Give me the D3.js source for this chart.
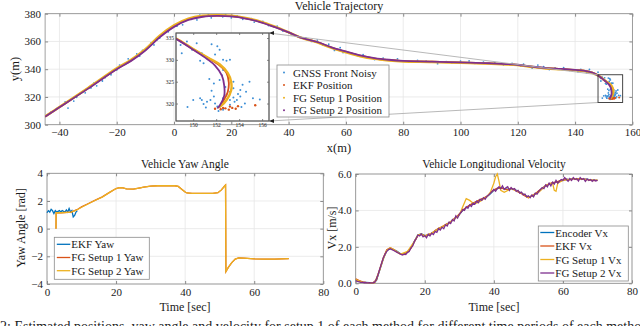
<!DOCTYPE html>
<html>
<head>
<meta charset="utf-8">
<script src="https://cdn.jsdelivr.net/npm/d3@7"></script>
<style>
body { margin: 0; background: #fff; }
svg { font-family: "Liberation Serif", "Times New Roman", serif; }
</style>
</head>
<body>
<svg id="fig" width="640" height="326"></svg>
<script>
// ---------- trajectory data (x, y in metres) ----------
const fg2Track = [[-45,305.8],[-40,312.5],[-30,326],[-20,340],[-15,346],[-10,353.5],[-5,363],[0,370.5],[5,375.5],[10,377.8],[15,378.4],[20,378],[25,376.5],[30,374],[35,370.5],[40,366.5],[44,363],[50,359.6],[55,355.8],[60,352.8],[65,350],[70,348],[75,346.8],[80,346],[90,345.5],[100,344.9],[110,344.3],[120,343.2],[125,341.9],[130,340.8],[135,340.2],[140,339.5],[143,339],[146,337.6],[148.5,334.8],[150,332.3],[151.2,330.2],[151.9,328.7],[152.5,326.4],[152.7,324.1],[152.7,321.8],[152.3,319.5],[152.1,318.9]];
const fg1Track = [[-45,306],[-40,312.8],[-30,326.5],[-20,340.6],[-15,346.8],[-10,354.5],[-5,364.2],[0,371.6],[5,376.4],[10,378.5],[15,379],[20,378.5],[25,377],[30,374.4],[35,370.8],[40,366.6],[44,363],[50,359.3],[55,355.3],[60,352.1],[65,349.3],[70,347.4],[75,346.3],[80,345.6],[90,345.2],[100,344.6],[110,344],[120,342.9],[125,341.6],[130,340.5],[135,339.9],[140,339.2],[143,338.7],[146,337.4],[148.5,334.9],[150,332.5],[151.3,330.5],[152.3,329],[153,327],[153.3,325],[153.3,323],[152.9,320.8],[152.4,319.4],[152.2,319.1]];
const ekfTrack = [[-45,305.9],[-40,312.6],[-30,326.2],[-20,340.2],[-15,346.3],[-10,353.9],[-5,363.5],[0,371],[5,375.9],[10,378.1],[15,378.7],[20,378.2],[25,376.7],[30,374.2],[35,370.6],[40,366.5],[44,363],[50,359.5],[55,355.6],[60,352.5],[65,349.7],[70,347.7],[75,346.6],[80,345.8],[90,345.4],[100,344.8],[110,344.2],[120,343],[125,341.8],[130,340.7],[135,340.1],[140,339.4],[143,338.9],[146,337.5],[148.5,334.9],[150,332.4],[151.3,330.4],[152.2,328.9],[152.9,327],[153.1,324.8],[153,322.6],[152.6,320.5],[152.3,319.2]];
const ekfEndFixes = [[152.4,318.7],[152.8,318.9],[153.1,318.6],[153.4,319.0],[153.7,318.8],[153.9,319.4],[153.2,319.3],[152.6,319.0],[155.4,319.6],[151.9,318.8]];
const gnssFixes = [[-43,309],[-41,311.5],[-38,316.5],[-37,312],[-35,317],[-34,319.8],[-31,323],[-29,326.5],[-28,330],[-27,328],[-25,331.5],[-24,334],[-22,336],[-20,339.5],[-19,343],[-17,343.5],[-16,347.5],[-14,348],[-13,351],[-12,349.5],[-11,353.5],[-9,356],[-8,359],[-7,357.5],[-6,361],[-5,362.5],[-4,365],[-2,367],[-1,369.5],[1,371],[2,373.5],[3,372],[4,375.5],[6,376],[7,377.5],[8,375.5],[9,379],[11,378.5],[12,379.5],[13,377],[15,379.2],[17,377.8],[18,379.5],[20,377],[22,378.5],[24,376],[27,376.5],[28,374],[31,374.5],[33,371.5],[36,371],[38,367.5],[41,365],[43,364],[46,362.5],[48,360],[50,361],[52,357.5],[54,358],[56,353.5],[58,355.5],[59,352],[62,351.5],[64,349.8],[66,350.5],[68,348.2],[70,347],[73,348],[76,346.5],[78,347.5],[82,345.2],[85,346.4],[88,345.8],[92,344],[95,345.5],[97,344.6],[100,345.8],[103,346],[105,344.3],[108,345],[112,344.8],[115,343.2],[118,344.2],[121,342.5],[122,343.6],[125,340.8],[127,343],[129,341.8],[131,339.8],[133,340.9],[136,341.2],[138,339.2],[141,338.2],[142,339.9],[144,337.5],[145,339.8],[147,336.2],[148,337.8],
  [148.9,333.4],[149.0,331.5],[149.45,334.2],[149.9,332.3],[150.3,333.8],[150.75,331.5],[150.6,329.8],[150.9,329.2],[151.6,333.6],[152.1,333.1],[152.3,332.3],[151.9,331.2],[152.6,330.0],[152.9,329.8],[153.2,330.0],[152.6,327.7],[152.5,326.5],[151.4,325.6],[151.8,324.6],[152.3,325.4],[153.5,325.0],[154.9,325.0],[153.5,323.5],[154.1,323.1],[154.6,322.7],[153.2,322.7],[150.6,321.2],[150.75,320.8],[150.9,319.9],[151.2,320.4],[151.5,320.8],[151.8,321.6],[151.9,320.0],[152.1,319.3],[152.3,319.5],[152.6,321.2],[152.9,322.0],[153.2,320.8],[153.5,321.4],[153.6,320.4],[153.8,320.8],[154.1,321.6],[154.5,320.0],[155.2,321.2],[155.8,320.9],[151.1,319.1],[150.0,320.8],[152.2,318.3],[152.6,318.6],[153.2,319.7],[149.5,319.2],[154.2,319.2],[153.9,322.2],[151.6,322.9],[152.8,323.8],[154.3,324.3]];

// ---------- yaw data ----------
const ekfYawTime = [0,0.4,0.8,1.2,1.6,2,2.4,2.8,3.2,3.6,4,4.4,4.8,5.2,5.6,6,6.4,6.8,7.2,7.6,8,8.4,8.8];
const ekfYaw = [1.15,1.3,1.2,1.4,1.3,1.1,1.3,1.2,1.25,1.3,1.2,1.3,1.25,1.2,1.35,1.2,1.45,1.2,1.3,0.85,0.95,1.2,1.3];
const fgYawTime = [2.6,2.65,4,6,7,8,9,10,12,14,16,18,20,21,22,23,25,27,28,30,32,35,37,38,39,40,40.5,42,45,48,49.5,50.5,51.5,51.7,51.8,52.5,53.5,54.5,55.5,57,60,63,66,70];
const fg1Yaw = [0,1.15,1.15,1.18,1.2,1.3,1.42,1.57,1.82,2.06,2.3,2.6,2.9,2.97,2.95,2.88,2.85,2.95,3.0,3.08,3.1,3.1,3.1,3.05,2.85,2.65,2.58,2.55,2.55,2.55,2.6,2.8,3.1,3.15,-3.1,-2.8,-2.45,-2.2,-2.12,-2.13,-2.18,-2.2,-2.2,-2.17];
const fg2Yaw = [0,1.15,1.15,1.18,1.2,1.28,1.4,1.55,1.8,2.05,2.28,2.6,2.9,2.97,2.95,2.88,2.85,2.95,3.0,3.08,3.1,3.1,3.1,3.05,2.85,2.65,2.58,2.55,2.55,2.55,2.6,2.8,3.1,3.15,-3.1,-2.8,-2.45,-2.2,-2.12,-2.13,-2.18,-2.2,-2.2,-2.17];

// ---------- longitudinal velocity data ----------
const vxTime = d3.range(0, 71);          // 1 s samples
const fg2VxTime = d3.range(0, 70.5, 0.5); // 0.5 s samples
const encoderVx = [0.2,0.12,0.05,0.05,0.03,0.03,0.15,0.75,1.35,1.8,1.9,1.85,1.75,1.62,1.6,1.72,1.95,2.3,2.65,2.72,2.62,2.65,2.75,2.88,3.0,3.08,3.2,3.32,3.45,3.6,3.78,4.0,4.15,4.28,4.38,4.48,4.58,4.66,4.76,4.92,5.1,5.2,5.25,5.2,5.15,5.2,5.15,5.05,4.95,4.85,4.72,4.78,4.9,5.05,5.2,5.35,5.45,5.5,5.55,5.6,5.65,5.7,5.7,5.75,5.72,5.75,5.7,5.72,5.68,5.65,5.65];
const ekfVx = [0.25,0.15,0.08,0.05,0.04,0.03,0.18,0.8,1.4,1.85,1.95,1.85,1.72,1.6,1.58,1.7,1.92,2.28,2.62,2.7,2.6,2.66,2.74,2.9,3.02,3.1,3.22,3.3,3.46,3.62,3.8,4.02,4.16,4.3,4.4,4.5,4.6,4.68,4.78,4.95,5.12,5.22,5.24,5.18,5.14,5.22,5.12,5.02,4.92,4.8,4.7,4.8,4.92,5.08,5.22,5.36,5.46,5.52,5.56,5.62,5.66,5.72,5.68,5.76,5.7,5.74,5.72,5.7,5.66,5.64,5.66];
const fg1VxTime = [0,2,4,5.5,7,8,9,10,11,13,15,17,18,19,20,22,24,26,28,30,31,32,33,34,35,36,38,39,40,40.5,41,41.5,42,43,45,47,49,50,51,53,55,56,57,57.5,58,58.5,59,60,62,64,66,68,70];
const fg1Vx = [0.2,0.05,0.03,0.03,0.75,1.35,1.8,1.95,1.85,1.6,1.75,2.3,2.65,2.7,2.6,2.75,3.0,3.2,3.45,3.75,4.2,4.65,4.55,4.4,4.4,4.5,4.75,5.0,5.5,5.85,6.0,5.6,5.1,5.0,5.2,5.05,4.85,4.7,4.8,5.0,5.35,5.45,5.5,5.1,5.05,5.5,5.55,5.65,5.7,5.75,5.7,5.68,5.65];
const fg2Vx = [0.15,0.1,0.08,0.05,0.05,0.03,0.04,0.02,0.03,0.02,0.03,0.05,
  0.25,0.5,0.8,1.1,1.4,1.6,1.75,1.85,
  1.9,1.85,1.8,1.75,1.7,1.65,1.6,1.55,1.6,1.58,
  1.7,1.75,1.95,2.05,2.3,2.45,2.65,2.6,2.7,2.55,
  2.62,2.5,2.7,2.6,2.75,2.68,2.85,2.8,3.0,2.92,
  3.08,3.0,3.22,3.15,3.35,3.28,3.5,3.42,3.7,3.58,
  3.78,3.9,4.05,4.0,4.2,4.12,4.3,4.22,4.4,4.35,
  4.5,4.42,4.6,4.55,4.7,4.62,4.78,4.85,4.95,5.05,
  5.15,5.05,5.2,5.3,5.2,5.35,5.15,5.25,5.3,5.1,
  5.25,5.15,5.2,5.05,5.1,4.95,5.0,4.85,4.9,4.75,
  4.8,4.7,4.85,4.75,4.95,4.9,5.05,5.15,5.25,5.2,
  5.4,5.3,5.5,5.35,5.55,5.45,5.65,5.5,5.6,5.7,
  5.65,5.8,5.7,5.6,5.75,5.65,5.8,5.7,5.75,5.62,
  5.8,5.7,5.75,5.6,5.72,5.65,5.7,5.6,5.68,5.62,
  5.65];

const blue = "#0072BD", red = "#D95319", orange = "#EDB120", purple = "#7E2F8E", dotBlue = "#3d8fd6";
const boxColor = "#8a8a8a", gridColor = "#e6e6e6", ink = "#1a1a1a";

const svg = d3.select("#fig");

// draws grid, box, inward ticks and labels for one axes
function drawFrame(x, y, xTicks, yTicks, o) {
    const [xa, xb] = x.range(), [ya, yb] = y.range();
    const g = svg.append("g");
    if (o.grid) {
        g.selectAll("line.gv").data(xTicks).join("line")
            .attr("x1", d => x(d)).attr("x2", d => x(d)).attr("y1", ya).attr("y2", yb)
            .attr("stroke", gridColor).attr("stroke-width", 0.8);
        g.selectAll("line.gh").data(yTicks).join("line")
            .attr("y1", d => y(d)).attr("y2", d => y(d)).attr("x1", xa).attr("x2", xb)
            .attr("stroke", gridColor).attr("stroke-width", 0.8);
    }
    if (o.fill) g.append("rect").attr("x", xa).attr("y", yb).attr("width", xb - xa).attr("height", ya - yb).attr("fill", "#fff");
    const style = s => {
        s.select(".domain").remove();
        s.attr("font-family", null).attr("font-size", o.fs);
        s.selectAll("line").attr("stroke", boxColor);
        s.selectAll("text").attr("fill", ink);
    };
    g.append("g").attr("transform", `translate(0,${ya})`)
        .call(d3.axisBottom(x).tickValues(xTicks).tickSize(-o.tick).tickPadding(o.pad)).call(style);
    g.append("g").attr("transform", `translate(0,${yb})`)
        .call(d3.axisTop(x).tickValues(xTicks).tickSize(-o.tick).tickFormat("")).call(style);
    g.append("g").attr("transform", `translate(${xa},0)`)
        .call(d3.axisLeft(y).tickValues(yTicks).tickSize(-o.tick).tickPadding(o.pad)).call(style);
    g.append("g").attr("transform", `translate(${xb},0)`)
        .call(d3.axisRight(y).tickValues(yTicks).tickSize(-o.tick).tickFormat("")).call(style);
    g.append("rect").attr("x", xa).attr("y", yb).attr("width", xb - xa).attr("height", ya - yb)
        .attr("fill", "none").attr("stroke", boxColor).attr("stroke-width", 0.8);
    return g;
}

function label(txt, x, y, size, rotate) {
    const t = svg.append("text").text(txt).attr("text-anchor", "middle").attr("font-size", size).attr("fill", ink);
    if (rotate) t.attr("transform", `translate(${x},${y}) rotate(-90)`);
    else t.attr("x", x).attr("y", y);
    return t;
}

// ***** VEHICLE TRAJECTORY *****
const xT = d3.scaleLinear().domain([-45, 160]).range([45.1, 632.4]);
const yT = d3.scaleLinear().domain([300, 380]).range([124.7, 13.7]);
drawFrame(xT, yT, d3.range(-40, 161, 20), d3.range(300, 381, 20), { grid: true, tick: 3, pad: 4, fs: 11 });

svg.append("clipPath").attr("id", "clipT").append("rect")
    .attr("x", 45.1).attr("y", 13.7).attr("width", 632.4 - 45.1).attr("height", 111);

function drawTrack(g, x, y, r) {
    const line = d3.line().x(d => x(d[0])).y(d => y(d[1])).curve(d3.curveCatmullRom);
    g.selectAll("circle.gnss").data(gnssFixes).join("circle").attr("class", "gnss")
        .attr("cx", d => x(d[0])).attr("cy", d => y(d[1])).attr("r", r).attr("fill", dotBlue);
    g.append("path").datum(ekfTrack).attr("d", line).attr("fill", "none").attr("stroke", red).attr("stroke-width", 1.8);
    g.selectAll("circle.ekf").data(ekfEndFixes).join("circle").attr("class", "ekf")
        .attr("cx", d => x(d[0])).attr("cy", d => y(d[1])).attr("r", r * 1.2).attr("fill", red);
    g.append("path").datum(fg1Track).attr("d", line).attr("fill", "none").attr("stroke", orange).attr("stroke-width", 2.4);
    g.append("path").datum(fg2Track).attr("d", line).attr("fill", "none").attr("stroke", purple).attr("stroke-width", 1.8);
}
drawTrack(svg.append("g").attr("clip-path", "url(#clipT)"), xT, yT, 0.9);

// zoom rectangle and connector lines
const zoomX = [148, 156.6], zoomY = [316, 336];
const inset = { x0: 176, x1: 269, y0: 33, y1: 121 };
svg.append("line").attr("x1", inset.x1).attr("y1", inset.y0).attr("x2", xT(zoomX[0])).attr("y2", yT(zoomY[1]))
    .attr("stroke", "#b0b0b0").attr("stroke-width", 0.9);
svg.append("line").attr("x1", inset.x1).attr("y1", inset.y1).attr("x2", xT(zoomX[0])).attr("y2", yT(zoomY[0]))
    .attr("stroke", "#b0b0b0").attr("stroke-width", 0.9);
svg.append("rect").attr("x", xT(zoomX[0])).attr("y", yT(zoomY[1]))
    .attr("width", xT(zoomX[1]) - xT(zoomX[0])).attr("height", yT(zoomY[0]) - yT(zoomY[1]))
    .attr("fill", "none").attr("stroke", "#333").attr("stroke-width", 0.9);

// inset axes
const xI = d3.scaleLinear().domain([148.5, 156.6]).range([inset.x0, inset.x1]);
const yI = d3.scaleLinear().domain([316, 336.15]).range([inset.y1, inset.y0]);
drawFrame(xI, yI, [150, 152, 154, 156], [320, 325, 330, 335], { grid: false, fill: true, tick: 2, pad: 2, fs: 5.5 });
svg.append("clipPath").attr("id", "clipI").append("rect")
    .attr("x", inset.x0).attr("y", inset.y0).attr("width", inset.x1 - inset.x0).attr("height", inset.y1 - inset.y0);
drawTrack(svg.append("g").attr("clip-path", "url(#clipI)"), xI, yI, 1.0);
svg.append("rect").attr("x", inset.x0).attr("y", inset.y0).attr("width", inset.x1 - inset.x0).attr("height", inset.y1 - inset.y0)
    .attr("fill", "none").attr("stroke", "#555").attr("stroke-width", 1);
[inset.y0, inset.y1].forEach(yy => {
    svg.append("path").attr("d", `M${inset.x1},${yy} l5,-2 l0,4 z`).attr("fill", "#222");
});

// trajectory legend
const trajLegend = svg.append("g").attr("transform", "translate(277,65)");
trajLegend.append("rect").attr("width", 112).attr("height", 52)
    .attr("fill", "#fff").attr("stroke", "#8a8a8a").attr("stroke-width", 0.8);
[["GNSS Front Noisy", dotBlue], ["EKF Position", red], ["FG Setup 1 Position", orange], ["FG Setup 2 Position", purple]]
    .forEach((d, i) => {
        trajLegend.append("circle").attr("cx", 7).attr("cy", 7.5 + i * 12.6).attr("r", 1).attr("fill", d[1]);
        trajLegend.append("text").text(d[0]).attr("x", 16).attr("y", 11.5 + i * 12.6)
            .attr("font-size", 11).attr("fill", ink);
    });

label("Vehicle Trajectory", 339, 10, 12);
label("x(m)", 339, 152, 12.5);
label("y(m)", 19, 69, 12.5, true);

// ***** VEHICLE YAW ANGLE *****
const xY = d3.scaleLinear().domain([0, 80]).range([47, 323.3]);
const yY = d3.scaleLinear().domain([-4, 4]).range([284, 173.3]);
drawFrame(xY, yY, d3.range(0, 81, 20), d3.range(-4, 5, 2), { grid: true, tick: 3, pad: 4, fs: 11 });
const yawLine = (t, v) => d3.line().x((d, i) => xY(t[i])).y(d => yY(d))(v);
svg.append("path").attr("d", yawLine(ekfYawTime, ekfYaw)).attr("fill", "none").attr("stroke", blue).attr("stroke-width", 1.3);
svg.append("path").attr("d", yawLine(fgYawTime, fg1Yaw)).attr("fill", "none").attr("stroke", red).attr("stroke-width", 1.3);
svg.append("path").attr("d", yawLine(fgYawTime, fg2Yaw)).attr("fill", "none").attr("stroke", orange).attr("stroke-width", 1.3);

const yawLegend = svg.append("g").attr("transform", "translate(54.3,237.3)");
yawLegend.append("rect").attr("width", 95).attr("height", 42)
    .attr("fill", "#fff").attr("stroke", "#8a8a8a").attr("stroke-width", 0.8);
[["EKF Yaw", blue], ["FG Setup 1 Yaw", red], ["FG Setup 2 Yaw", orange]].forEach((d, i) => {
    yawLegend.append("line").attr("x1", 2.5).attr("x2", 16).attr("y1", 7 + i * 13.2).attr("y2", 7 + i * 13.2)
        .attr("stroke", d[1]).attr("stroke-width", 1.3);
    yawLegend.append("text").text(d[0]).attr("x", 17).attr("y", 11 + i * 13.2).attr("font-size", 11).attr("fill", ink);
});

label("Vehicle Yaw Angle", 185, 168, 11.5);
label("Time [sec]", 185, 311, 12);
label("Yaw Angle [rad]", 25, 228, 12, true);

// ***** VEHICLE LONGITUDINAL VELOCITY *****
const xV = d3.scaleLinear().domain([0, 80]).range([355.7, 632]);
const yV = d3.scaleLinear().domain([0, 6]).range([283.3, 174]);
drawFrame(xV, yV, d3.range(0, 81, 20), d3.range(0, 7, 2), { grid: true, tick: 3, pad: 4, fs: 11 });
const vxLine = (t, v) => d3.line().x((d, i) => xV(t[i])).y(d => yV(d))(v);
svg.append("path").attr("d", vxLine(vxTime, encoderVx)).attr("fill", "none").attr("stroke", blue).attr("stroke-width", 1.3);
svg.append("path").attr("d", vxLine(vxTime, ekfVx)).attr("fill", "none").attr("stroke", red).attr("stroke-width", 1.3);
svg.append("path").attr("d", vxLine(fg1VxTime, fg1Vx)).attr("fill", "none").attr("stroke", orange).attr("stroke-width", 1.3);
svg.append("path").attr("d", vxLine(fg2VxTime, fg2Vx)).attr("fill", "none").attr("stroke", purple).attr("stroke-width", 1.3);

const vxLegend = svg.append("g").attr("transform", "translate(538.3,226)");
vxLegend.append("rect").attr("width", 90).attr("height", 55)
    .attr("fill", "#fff").attr("stroke", "#8a8a8a").attr("stroke-width", 0.8);
[["Encoder Vx", blue], ["EKF Vx", red], ["FG Setup 1 Vx", orange], ["FG Setup 2 Vx", purple]].forEach((d, i) => {
    vxLegend.append("line").attr("x1", 2).attr("x2", 16).attr("y1", 6.5 + i * 13.5).attr("y2", 6.5 + i * 13.5)
        .attr("stroke", d[1]).attr("stroke-width", 1.3);
    vxLegend.append("text").text(d[0]).attr("x", 17).attr("y", 10.5 + i * 13.5).attr("font-size", 11).attr("fill", ink);
});

label("Vehicle Longitudional Velocity", 494, 168, 11.5);
label("Time [sec]", 494, 311, 12);
label("Vx [m/s]", 336, 228, 12, true);

// caption (cut by the bottom edge)
svg.append("text").text("2: Estimated positions, yaw angle and velocity for setup 1 of each method for different time periods of each method for the")
    .attr("x", 0).attr("y", 331).attr("font-size", 14).attr("fill", ink);
</script>
</body>
</html>
